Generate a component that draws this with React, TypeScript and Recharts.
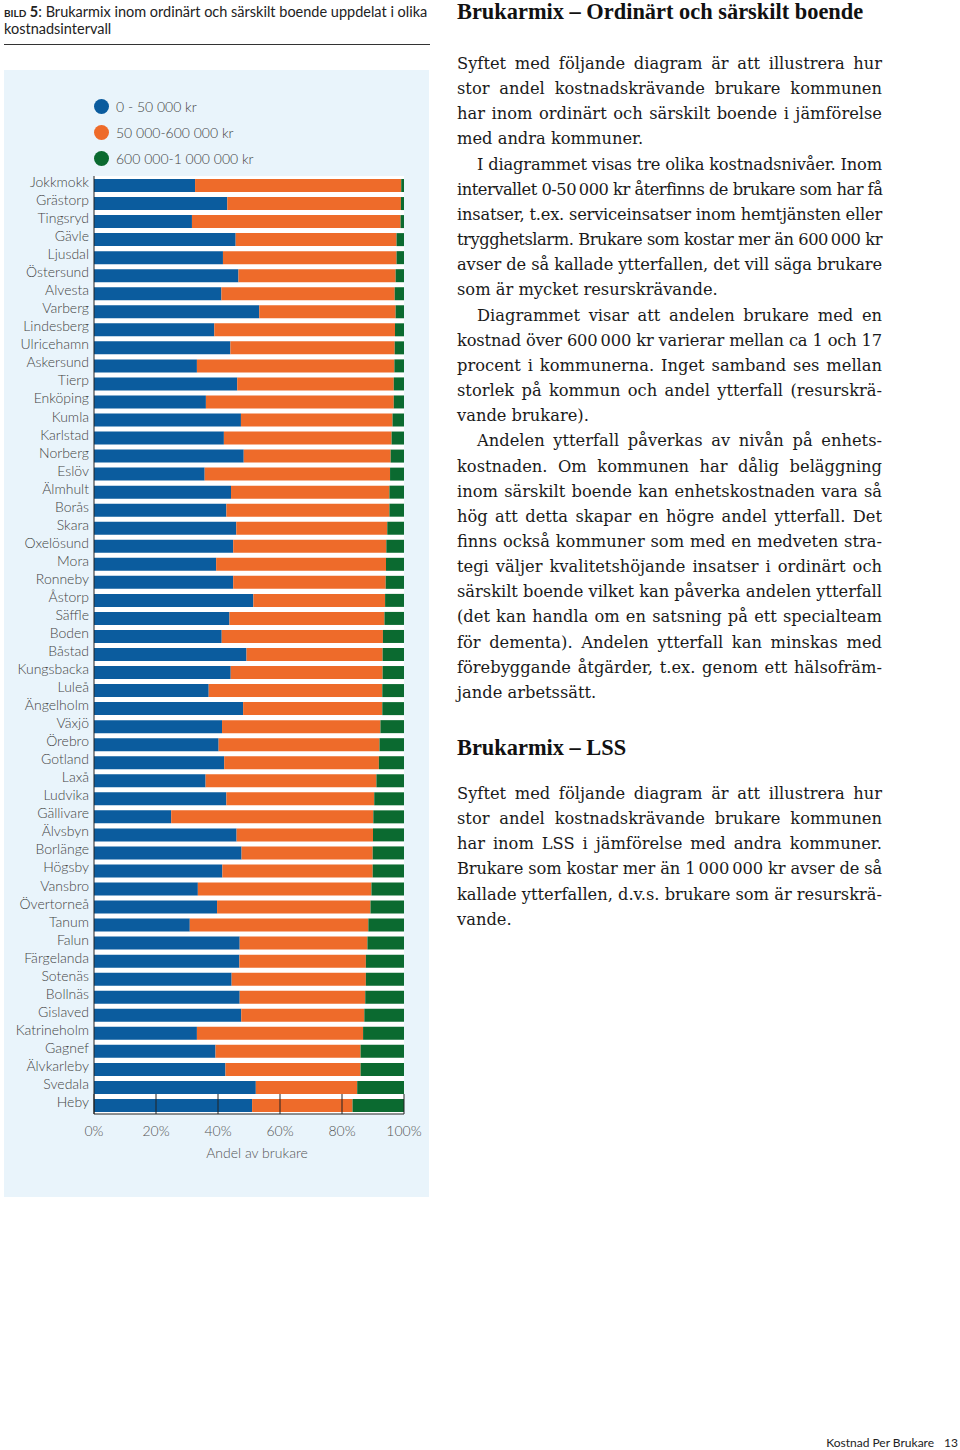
import React, { useLayoutEffect, useRef, useState } from "react"
import { BarChart, Bar, XAxis, YAxis, CartesianGrid, ReferenceArea } from "recharts"

// kommuner, top to bottom
const municipalities = [
  "Jokkmokk", "Grästorp", "Tingsryd", "Gävle", "Ljusdal", "Östersund", "Alvesta", "Varberg",
  "Lindesberg", "Ulricehamn", "Askersund", "Tierp", "Enköping", "Kumla", "Karlstad", "Norberg",
  "Eslöv", "Älmhult", "Borås", "Skara", "Oxelösund", "Mora", "Ronneby", "Åstorp", "Säffle",
  "Boden", "Båstad", "Kungsbacka", "Luleå", "Ängelholm", "Växjö", "Örebro", "Gotland", "Laxå",
  "Ludvika", "Gällivare", "Älvsbyn", "Borlänge", "Högsby", "Vansbro", "Övertorneå", "Tanum",
  "Falun", "Färgelanda", "Sotenäs", "Bollnäs", "Gislaved", "Katrineholm", "Gagnef",
  "Älvkarleby", "Svedala", "Heby",
]

// andel brukare (%) per kostnadsintervall
const low = [
  32.6, 43.0, 31.6, 45.7, 41.6, 46.6, 41.1, 53.3, 38.8, 44.0, 33.2, 46.2, 36.1, 47.4, 41.9, 48.3,
  35.7, 44.2, 42.7, 45.9, 44.9, 39.4, 44.9, 51.4, 43.7, 41.2, 49.2, 44.1, 37.0, 48.1, 41.3, 40.2,
  42.0, 36.0, 42.7, 24.9, 46.0, 47.6, 41.4, 33.5, 39.7, 30.9, 47.0, 46.9, 44.4, 47.0, 47.5, 33.2,
  39.2, 42.4, 52.2, 51.0,
]
const mid = [
  66.5, 56.0, 67.3, 51.9, 56.0, 50.7, 55.9, 44.0, 58.3, 53.0, 63.7, 50.5, 60.6, 48.9, 54.1, 47.4,
  59.8, 51.1, 52.6, 48.7, 49.4, 54.8, 49.2, 42.5, 50.0, 52.0, 43.9, 49.0, 56.0, 44.9, 51.1, 51.9,
  49.9, 55.1, 47.7, 65.2, 44.0, 42.3, 48.5, 56.0, 49.5, 57.6, 41.2, 40.8, 43.3, 40.5, 39.7, 53.6,
  46.8, 43.6, 32.7, 32.4,
]
const high = [
  0.9, 1.0, 1.1, 2.4, 2.4, 2.7, 3.0, 2.7, 2.9, 3.0, 3.1, 3.3, 3.3, 3.7, 4.0, 4.3,
  4.5, 4.7, 4.7, 5.4, 5.7, 5.8, 5.9, 6.1, 6.3, 6.8, 6.9, 6.9, 7.0, 7.0, 7.6, 7.9,
  8.1, 8.9, 9.6, 9.9, 10.0, 10.1, 10.1, 10.5, 10.8, 11.5, 11.8, 12.3, 12.3, 12.5, 12.8, 13.2,
  14.0, 14.0, 15.1, 16.6,
]

const seriesNames = ["0 - 50 000 kr", "50 000-600 000 kr", "600 000-1 000 000 kr"]
const seriesColors = ["#0b5c9e", "#ee6b2a", "#0b6a30"]
const xTicks = [0, 20, 40, 60, 80, 100]

const data = municipalities.map((name, i) => ({ name, low: low[i], mid: mid[i], high: high[i] }))
const seriesKeys = ["low", "mid", "high"]

const heading1 = "Brukarmix – Ordinärt och särskilt boende"
const heading2 = "Brukarmix – LSS"

const paragraphs1 = [
  {
    indent: false,
    lines: [
      "Syftet med följande diagram är att illustrera hur",
      "stor andel kostnadskrävande brukare kommunen",
      "har inom ordinärt och särskilt boende i jämförelse",
      "med andra kommuner.",
    ],
  },
  {
    indent: true,
    lines: [
      "I diagrammet visas tre olika kostnadsnivåer. Inom",
      "intervallet 0-50\u2009000 kr återfinns de brukare som har få",
      "insatser, t.ex. serviceinsatser inom hemtjänsten eller",
      "trygghetslarm. Brukare som kostar mer än 600\u2009000 kr",
      "avser de så kallade ytterfallen, det vill säga brukare",
      "som är mycket resurskrävande.",
    ],
  },
  {
    indent: true,
    lines: [
      "Diagrammet visar att andelen brukare med en",
      "kostnad över 600\u2009000 kr varierar mellan ca 1 och 17",
      "procent i kommunerna. Inget samband ses mellan",
      "storlek på kommun och andel ytterfall (resurskrä-",
      "vande brukare).",
    ],
  },
  {
    indent: true,
    lines: [
      "Andelen ytterfall påverkas av nivån på enhets-",
      "kostnaden. Om kommunen har dålig beläggning",
      "inom särskilt boende kan enhetskostnaden vara så",
      "hög att detta skapar en högre andel ytterfall. Det",
      "finns också kommuner som med en medveten stra-",
      "tegi väljer kvalitetshöjande insatser i ordinärt och",
      "särskilt boende vilket kan påverka andelen ytterfall",
      "(det kan handla om en satsning på ett specialteam",
      "för dementa). Andelen ytterfall kan minskas med",
      "förebyggande åtgärder, t.ex. genom ett hälsofräm-",
      "jande arbetssätt.",
    ],
  },
]

const paragraphs2 = [
  {
    indent: false,
    lines: [
      "Syftet med följande diagram är att illustrera hur",
      "stor andel kostnadskrävande brukare kommunen",
      "har inom LSS i jämförelse med andra kommuner.",
      "Brukare som kostar mer än 1\u2009000\u2009000 kr avser de så",
      "kallade ytterfallen, d.v.s. brukare som är resurskrä-",
      "vande.",
    ],
  },
]

const COL_W = 425
const INDENT = 20
const LINE_H = 25.16
const sans = "Lato, 'Open Sans', sans-serif"
const serif = "'DejaVu Serif', 'Liberation Serif', serif"
const headSerif = "'Liberation Serif', 'DejaVu Serif', serif"

// one set line of body text, stretched to the column like the print layout
function TextLine({ text, justify, indent }: { text: string; justify: boolean; indent: number }) {
  const ref = useRef<HTMLSpanElement>(null)
  const [ws, setWs] = useState(0)
  const [ls, setLs] = useState(0)
  useLayoutEffect(() => {
    const el = ref.current
    if (!el) return
    const w = el.getBoundingClientRect().width
    const avail = COL_W - indent
    const spaces = (text.match(/ /g) || []).length
    if (w > avail) setLs((avail - w) / text.length)
    else if (justify && spaces) setWs((avail - w) / spaces)
  }, [])
  return (
    <div style={{ height: LINE_H, lineHeight: `${LINE_H}px`, paddingLeft: indent, whiteSpace: "nowrap" }}>
      <span ref={ref} style={{ wordSpacing: ws, letterSpacing: ls }}>{text}</span>
    </div>
  )
}

function Paragraphs({ paras, top }: { paras: typeof paragraphs1; top: number }) {
  return (
    <div style={{ position: "absolute", left: 457, top, width: COL_W, fontFamily: serif, fontSize: 16.3, color: "#1a1a1a" }}>
      {paras.map((p, pi) =>
        p.lines.map((line, li) => (
          <TextLine key={`${pi}-${li}`} text={line} justify={li < p.lines.length - 1} indent={p.indent && li === 0 ? INDENT : 0} />
        ))
      )}
    </div>
  )
}

function YTick(props: any) {
  const { x, y, payload } = props
  return (
    <text x={x} y={y + 2} textAnchor="end" fontSize={14} fill="#444" fontFamily={sans} fontWeight={300}>
      {payload.value}
    </text>
  )
}

export default function App() {
  return (
    <div style={{ position: "absolute", left: 0, top: 0, width: 960, height: 1450, background: "#fff", overflow: "hidden" }}>
      {/* left column */}
      <div style={{ position: "absolute", left: 4, top: 3, width: 430, fontFamily: sans, fontSize: 14.5, lineHeight: "17px", color: "#222" }}>
        <span style={{ fontVariant: "small-caps", fontWeight: 700, textTransform: "lowercase" }}>Bild 5</span>: Brukarmix inom ordinärt och särskilt boende uppdelat i olika
        <br />
        kostnadsintervall
      </div>
      <div style={{ position: "absolute", left: 4, top: 44, width: 426, height: 1, background: "#333" }} />
      <div style={{ position: "absolute", left: 4, top: 70, width: 425, height: 1127, background: "#e9f4fb" }} />

      <div style={{ position: "absolute", left: 94, top: 93, fontFamily: sans, fontWeight: 300, fontSize: 14, color: "#444" }}>
        {seriesNames.map((n, i) => (
          <div key={n} style={{ height: 26, display: "flex", alignItems: "center" }}>
            <span style={{ display: "inline-block", width: 15, height: 15, borderRadius: "50%", background: seriesColors[i], marginRight: 7 }} />
            {n}
          </div>
        ))}
      </div>

      <div style={{ position: "absolute", left: 0, top: 150 }}>
        <BarChart
          width={430}
          height={1030}
          data={data}
          layout="vertical"
          margin={{ top: 26, right: 26, left: 0, bottom: 16 }}
          barSize={13}
        >
          <CartesianGrid fill="#fff" horizontal={false} vertical={false} />
          <XAxis
            type="number"
            domain={[0, 100]}
            ticks={xTicks}
            tickFormatter={(v) => `${v}%`}
            axisLine={{ stroke: "#222" }}
            tickLine={{ stroke: "#222" }}
            tickSize={-20}
            tickMargin={32}
            height={50}
            tick={{ fontSize: 14, fill: "#555", fontFamily: sans, fontWeight: 300 }}
            label={{ value: "Andel av brukare", position: "insideBottom", offset: 6, dx: 8, fontSize: 14, fill: "#555", fontFamily: sans, fontWeight: 300 }}
          />
          <YAxis
            type="category"
            dataKey="name"
            width={94}
            interval={0}
            axisLine={{ stroke: "#222" }}
            tickLine={false}
            tickSize={0}
            tickMargin={5}
            tick={<YTick />}
          />
          <ReferenceArea y1="Heby" y2="Heby" x1={0} x2={100} fill="none" stroke="#222" strokeWidth={1} />
          {seriesKeys.map((k, i) => (
            <Bar key={k} dataKey={k} name={seriesNames[i]} stackId="a" fill={seriesColors[i]} isAnimationActive={false} />
          ))}
        </BarChart>
      </div>

      {/* right column */}
      <div style={{ position: "absolute", left: 457, top: -1, fontFamily: headSerif, fontWeight: 700, fontSize: 22.4, lineHeight: "26px", color: "#111", whiteSpace: "nowrap" }}>
        {heading1}
      </div>
      <Paragraphs paras={paragraphs1} top={51} />
      <div style={{ position: "absolute", left: 457, top: 735, fontFamily: headSerif, fontWeight: 700, fontSize: 22.4, lineHeight: "26px", color: "#111", whiteSpace: "nowrap" }}>
        {heading2}
      </div>
      <Paragraphs paras={paragraphs2} top={781} />

      <div style={{ position: "absolute", right: 2, top: 1435, fontFamily: sans, fontSize: 12, color: "#222", whiteSpace: "nowrap" }}>
        Kostnad Per Brukare<span style={{ marginLeft: 10 }}>13</span>
      </div>
    </div>
  )
}
